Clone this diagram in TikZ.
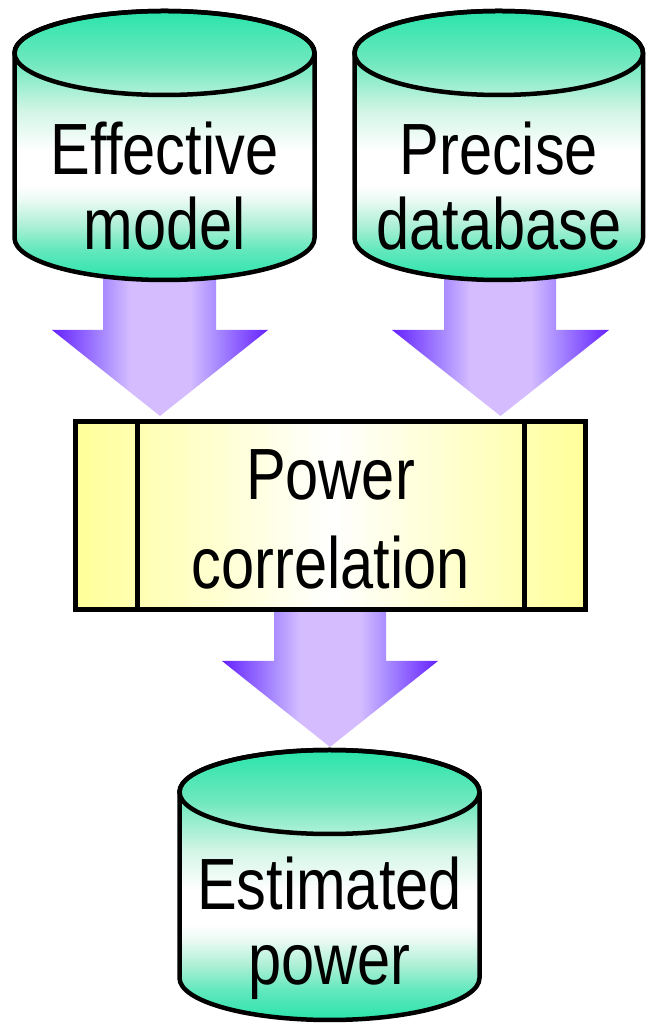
\documentclass[tikz,border=0pt]{standalone}
\usepackage{fontspec}
\setmainfont{Liberation Sans}[FakeStretch=0.82]
\definecolor{cg}{RGB}{42,228,170}
\definecolor{cga}{RGB}{100,232,190}
\definecolor{cgb}{RGB}{175,240,215}
\definecolor{cgc}{RGB}{235,250,244}
\definecolor{cgd}{RGB}{210,245,230}
\definecolor{cge}{RGB}{110,232,190}
\definecolor{av}{RGB}{102,34,255}
\definecolor{am}{RGB}{168,138,255}
\definecolor{al}{RGB}{212,188,255}
\definecolor{yb}{RGB}{255,255,153}
\pgfdeclareverticalshading{cylshade}{100bp}{color(0bp)=(cg); color(25bp)=(cg); color(30.7bp)=(cga); color(35.3bp)=(cgb); color(39.9bp)=(cgc); color(42.6bp)=(white); color(49bp)=(white); color(56.4bp)=(cgd); color(65.6bp)=(cge); color(75bp)=(cg); color(100bp)=(cg)}
\pgfdeclarehorizontalshading{arrowshade}{100bp}{color(0bp)=(av); color(25bp)=(av); color(36.8bp)=(am); color(43bp)=(al); color(57bp)=(al); color(63.2bp)=(am); color(75bp)=(av); color(100bp)=(av)}
\newcommand\mycyl[4]{%
  \shadedraw[shading=cylshade, line width=4.5pt] (#1-#2,#3) -- (#1-#2,#4)
    arc[start angle=180, end angle=360, x radius=#2, y radius=42]
    -- (#1+#2,#3)
    arc[start angle=0, end angle=180, x radius=#2, y radius=42] -- cycle;
  \draw[line width=4.5pt] (#1,#3) ellipse[x radius=#2, y radius=42];
}
\begin{document}
\begin{tikzpicture}[x=1pt, y=1pt,
  lbl/.style={inner sep=0pt, align=center, font=\fontsize{72.6}{75}\selectfont},
  blkarrow/.style={shading=arrowshade}]
\useasboundingbox (0,0) rectangle (655,1025);
% block arrows
\shade[blkarrow] (103,765) -- (103,695) -- (52,695) -- (160,609) -- (268,695) -- (216,695) -- (216,765) -- cycle;
\shade[blkarrow] (444,765) -- (444,695) -- (392,695) -- (500.5,609) -- (609,695) -- (556,695) -- (556,765) -- cycle;
\shade[blkarrow] (274,420) -- (274,364) -- (222,364) -- (330,278) -- (438,364) -- (386,364) -- (386,420) -- cycle;
% cylinders
\mycyl{164.5}{150}{972}{787}
\mycyl{498.75}{144.25}{972}{787}
\mycyl{329.5}{150}{233}{47}
% process box
\shade[left color=yb, right color=yb, middle color=white] (75.5,415.5) rectangle (585.5,603.5);
\draw[line width=5pt] (75.5,415.5) rectangle (585.5,603.5);
\draw[line width=5pt] (137.5,415.5) -- (137.5,603.5);
\draw[line width=5pt] (524.5,415.5) -- (524.5,603.5);
% labels (base = baseline of the last line)
\node[lbl, anchor=base] (eff) at (164.5,775) {Effective\\model};
\node[lbl, anchor=base] (pre) at (498.75,775) {Precise\\database};
\node[lbl, anchor=base, font=\fontsize{72.6}{89}\selectfont] (pow) at (330.5,436) {Power\\correlation};
\node[lbl, anchor=base] (est) at (329.5,40) {Estimated\\power};
\end{tikzpicture}
\end{document}
